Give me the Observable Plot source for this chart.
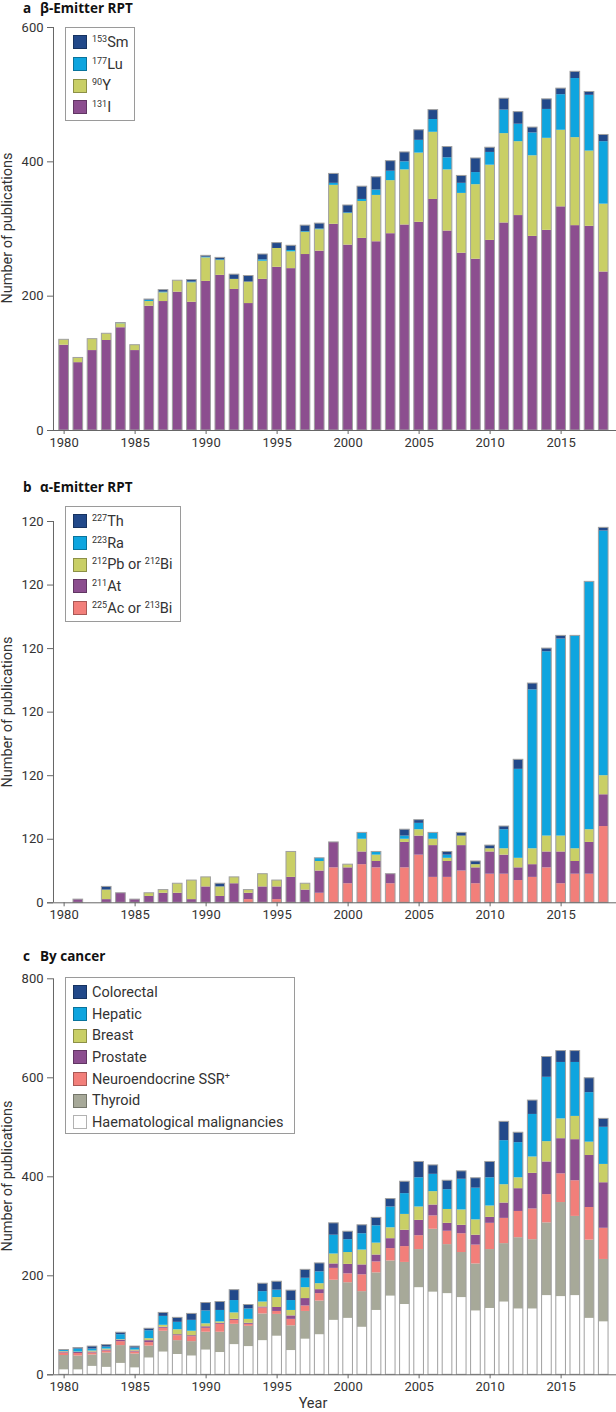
<!DOCTYPE html>
<html>
<head>
<meta charset="utf-8">
<script src="https://cdn.jsdelivr.net/npm/d3@7"></script>
<script src="https://cdn.jsdelivr.net/npm/@observablehq/plot@0.6"></script>
<style>
  html, body { margin: 0; padding: 0; background: #fff; }
  #root { position: relative; width: 616px; height: 1412px; overflow: hidden; font-family: Roboto, "Noto Sans", sans-serif; color: #333; }
  .panel { position: absolute; left: 0; }
  .title { position: absolute; font-weight: bold; font-size: 13.5px; line-height: 16px; color: #111; white-space: nowrap; font-family: "Open Sans", Roboto, sans-serif; }
  .title .l { position: absolute; left: 0; top: 0; }
  .title .t { position: absolute; left: 17px; top: 0; }
  .ylab { position: absolute; width: 300px; text-align: center; font-size: 14.5px; line-height: 1; color: #333; transform: translate(-50%, -50%) rotate(-90deg); white-space: nowrap; }
  .legend { position: absolute; border: 1px solid #9a9a9a; background: #fff; box-sizing: border-box; padding-top: 3.5px; }
  .legend .row { height: 21.7px; display: flex; align-items: center; font-size: 14.5px; color: #333; white-space: nowrap; }
  .legend .sw { width: 12px; height: 12px; margin-left: 7px; margin-right: 5px; flex: none; border: 1px solid rgba(0,0,0,0.3); }
  .legend sup { font-size: 9px; vertical-align: 5px; line-height: 0; }
  .xlab { position: absolute; font-size: 14.5px; color: #333; transform: translateX(-50%); }
</style>
</head>
<body>
<div id="root"></div>
<script>
// ---------- data ----------
const years = d3.range(1980, 2019);

// Panel a: β-emitters
const I131 = [127,101,119,134,153,119,185,192,206,191,222,231,210,189,225,243,241,262,267,307,276,286,281,293,306,310,344,297,264,255,283,309,320,289,298,333,305,304,236];
const Y90  = [8,7,17,10,6,8,7,13,17,29,35,22,15,32,27,28,25,33,32,58,47,55,69,79,82,103,100,91,89,111,112,133,110,120,137,114,131,112,101];
const Lu177 = [0,0,0,0,1,0,2,1,0,1,1,1,0,0,2,0,2,1,1,3,1,3,8,14,12,19,19,18,15,18,19,35,26,34,43,53,88,83,93];
const Sm153 = [0,0,0,0,0,0,1,3,0,3,2,3,7,9,8,8,7,9,8,14,11,19,19,15,14,15,14,16,11,21,7,17,18,8,15,9,10,5,10];

// Panel b: α-emitters
const Ac225 = [0,0,0,0,0,0,0,0,0,0,0,0,0,1,0,1,0,0,3,11,6,12,11,6,11,15,8,8,10,6,9,9,7,8,11,6,9,9,24];
const At211 = [0,1,0,1,3,1,2,3,3,1,5,2,6,2,5,4,8,4,7,8,5,4,2,3,8,6,10,5,8,5,7,6,4,4,5,10,4,10,10];
const Pb212 = [0,0,0,3,0,0,1,1,3,6,3,3,2,1,4,2,8,2,3,0,1,4,2,0,1,2,2,1,3,1,1,2,3,5,5,5,4,4,6];
const Ra223 = [0,0,0,0,0,0,0,0,0,0,0,0,0,0,0,0,0,0,1,0,0,2,1,0,1,2,2,1,0,0,0,6,28,50,58,62,67,78,77];
const Th227 = [0,0,0,1,0,0,0,0,0,0,0,1,0,0,0,0,0,0,0,0,0,0,0,0,2,1,0,1,1,1,1,1,3,2,1,1,0,0,1];

// Panel c: by cancer
const Haem  = [10,10,17,15,23,14,34,46,41,38,50,45,61,57,69,78,49,72,81,110,114,96,130,159,142,176,167,164,156,129,134,147,133,133,160,158,160,114,107];
const Thyr  = [29,28,23,29,36,28,24,42,28,29,36,41,41,41,54,44,50,56,68,81,72,72,76,71,85,77,127,99,91,95,119,118,144,140,147,190,160,158,126];
const Neuro = [5,5,4,4,8,4,7,6,10,10,8,16,8,4,12,6,13,11,15,24,18,34,22,25,32,28,27,27,38,38,53,51,53,62,57,58,72,66,63];
const Prost = [2,2,2,2,3,2,4,2,2,2,3,2,2,2,2,8,7,15,8,9,19,20,14,20,33,31,22,16,17,20,12,31,46,72,66,71,83,105,92];
const Breast = [1,1,2,2,1,2,4,4,10,9,6,3,13,8,10,20,11,22,12,20,24,30,24,22,32,27,27,28,31,31,23,37,22,33,41,40,47,27,37];
const Hepat = [2,6,4,4,10,4,16,18,15,22,26,23,25,21,21,15,20,19,24,38,26,33,35,42,42,59,35,40,62,64,57,89,71,86,130,114,109,100,75];
const Colo  = [1,2,5,4,4,3,4,7,9,13,16,17,21,8,16,17,20,17,17,24,16,17,16,16,24,32,18,18,16,20,32,38,20,28,41,23,23,29,17];

// tick values and labels
const xTicks = [1980, 1985, 1990, 1995, 2000, 2005, 2010, 2015];
const aTicks = [0, 200, 400, 600];
const aTickLabels = ["0", "200", "400", "600"];
const bTicks = [0, 20, 40, 60, 80, 100, 120];
const bTickLabels = ["0", "120", "120", "120", "120", "120", "120"];
const cTicks = [0, 200, 400, 600, 800];
const cTickLabels = ["0", "200", "400", "600", "800"];

const C_DARK = "#22498a", C_CYAN = "#0ea5df", C_YEL = "#c9cf66", C_PUR = "#8c4e8f", C_SAL = "#f27f7a", C_GRAY = "#a7a999", C_WHITE = "#ffffff";

// ---------- drawing ----------
const root = document.getElementById("root");
const X0 = 1978.83, X1 = 2018.9, XAX = 1979.2525, HALF = 0.34;

function panel({top, height, marginTop, marginBottom, series, ymax, ticks, tickLabels}) {
  const rows = [];
  for (const s of series) years.forEach((yr, i) => rows.push({year: yr, series: s.name, value: s.values[i]}));
  const totals = years.map((yr, i) => ({year: yr, total: d3.sum(series, s => s.values[i])}));
  const lab = new Map(ticks.map((t, i) => [t, tickLabels[i]]));
  const svg = Plot.plot({
    width: 616, height, marginTop, marginBottom, marginLeft: 47, marginRight: 0,
    style: {fontFamily: "Roboto, 'Noto Sans', sans-serif", fontSize: "13px", color: "#333", background: "transparent", overflow: "visible"},
    x: {type: "linear", domain: [X0, X1], axis: null},
    y: {domain: [0, ymax], axis: null},
    color: {domain: series.map(s => s.name), range: series.map(s => s.color)},
    marks: [
      Plot.rectY(rows, {x1: d => d.year - HALF, x2: d => d.year + HALF, y: "value", fill: "series"}),
      Plot.rectY(totals, {x1: d => d.year - HALF, x2: d => d.year + HALF, y: "total", fill: "none", stroke: "#a0a0a0", strokeWidth: 1}),
      Plot.ruleY([0], {stroke: "#666", strokeWidth: 1}),
      Plot.ruleX([XAX], {y1: 0, y2: ymax, stroke: "#666", strokeWidth: 1}),
      Plot.ruleY(ticks, {y: d => d, x1: X0, x2: XAX, stroke: "#666", strokeWidth: 1}),
      Plot.axisY(ticks, {anchor: "left", tickSize: 0, tickPadding: 4, label: null, tickFormat: d => lab.get(d), fill: "#333"}),
      Plot.axisX(xTicks, {anchor: "bottom", tickSize: 4, tickPadding: 3, label: null, tickFormat: d => String(d), stroke: "#666", fill: "#333"})
    ]
  });
  const wrap = document.createElement("div");
  wrap.className = "panel";
  wrap.style.top = top + "px";
  wrap.appendChild(svg);
  root.appendChild(wrap);
}

function html(str) {
  const t = document.createElement("template");
  t.innerHTML = str.trim();
  root.appendChild(t.content.firstChild);
}

function legend(left, top, width, height, items) {
  const rowsHtml = items.map(it => `<div class="row"><span class="sw" style="background:${it.color}"></span><span>${it.label}</span></div>`).join("");
  html(`<div class="legend" style="left:${left}px;top:${top}px;width:${width}px;height:${height}px">${rowsHtml}</div>`);
}

// Panel a
panel({top: 0, height: 452, marginTop: 27, marginBottom: 22, ymax: 600, ticks: aTicks, tickLabels: aTickLabels,
  series: [
    {name: "131I", values: I131, color: C_PUR},
    {name: "90Y", values: Y90, color: C_YEL},
    {name: "177Lu", values: Lu177, color: C_CYAN},
    {name: "153Sm", values: Sm153, color: C_DARK}
  ]});
html(`<div class="title" style="left:23px;top:0px;"><span class="l">a</span><span class="t">β-Emitter RPT</span></div>`);
html(`<div class="ylab" style="left:8px;top:228px;">Number of publications</div>`);
legend(65, 27, 70, 94, [
  {label: "<sup>153</sup>Sm", color: C_DARK},
  {label: "<sup>177</sup>Lu", color: C_CYAN},
  {label: "<sup>90</sup>Y", color: C_YEL},
  {label: "<sup>131</sup>I", color: C_PUR}
]);

// Panel b
panel({top: 470, height: 454, marginTop: 51, marginBottom: 21.7, ymax: 120, ticks: bTicks, tickLabels: bTickLabels,
  series: [
    {name: "225Ac or 213Bi", values: Ac225, color: C_SAL},
    {name: "211At", values: At211, color: C_PUR},
    {name: "212Pb or 212Bi", values: Pb212, color: C_YEL},
    {name: "223Ra", values: Ra223, color: C_CYAN},
    {name: "227Th", values: Th227, color: C_DARK}
  ]});
html(`<div class="title" style="left:23px;top:479px;"><span class="l">b</span><span class="t">α-Emitter RPT</span></div>`);
html(`<div class="ylab" style="left:8px;top:712px;">Number of publications</div>`);
legend(65, 506, 116, 116, [
  {label: "<sup>227</sup>Th", color: C_DARK},
  {label: "<sup>223</sup>Ra", color: C_CYAN},
  {label: "<sup>212</sup>Pb or <sup>212</sup>Bi", color: C_YEL},
  {label: "<sup>211</sup>At", color: C_PUR},
  {label: "<sup>225</sup>Ac or <sup>213</sup>Bi", color: C_SAL}
]);

// Panel c
panel({top: 940, height: 472, marginTop: 38.3, marginBottom: 37.7, ymax: 800, ticks: cTicks, tickLabels: cTickLabels,
  series: [
    {name: "Haematological malignancies", values: Haem, color: C_WHITE},
    {name: "Thyroid", values: Thyr, color: C_GRAY},
    {name: "Neuroendocrine SSR+", values: Neuro, color: C_SAL},
    {name: "Prostate", values: Prost, color: C_PUR},
    {name: "Breast", values: Breast, color: C_YEL},
    {name: "Hepatic", values: Hepat, color: C_CYAN},
    {name: "Colorectal", values: Colo, color: C_DARK}
  ]});
html(`<div class="title" style="left:23px;top:948px;"><span class="l">c</span><span class="t">By cancer</span></div>`);
html(`<div class="ylab" style="left:8px;top:1176px;">Number of publications</div>`);
legend(65, 977, 230, 157, [
  {label: "Colorectal", color: C_DARK},
  {label: "Hepatic", color: C_CYAN},
  {label: "Breast", color: C_YEL},
  {label: "Prostate", color: C_PUR},
  {label: "Neuroendocrine SSR<sup>+</sup>", color: C_SAL},
  {label: "Thyroid", color: C_GRAY},
  {label: "Haematological malignancies", color: C_WHITE}
]);
html(`<div class="xlab" style="left:313px;top:1395px;">Year</div>`);
</script>
</body>
</html>
